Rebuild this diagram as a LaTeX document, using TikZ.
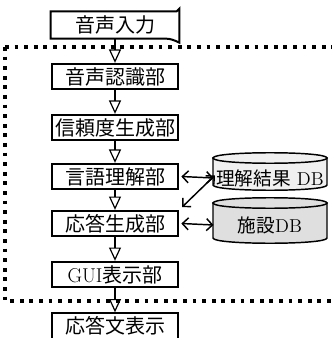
\documentclass[tikz,border=0pt]{standalone}
\usepackage{fontspec}
\newfontfamily\jp{Noto Sans CJK JP}
\usetikzlibrary{arrows.meta}

\tikzset{every picture/.style={line width=0.75pt}}
\tikzset{
  unit/.style={draw, line width=1.5, minimum width=95pt, minimum height=19pt, inner sep=0.75pt, font=\fontsize{15}{17}\selectfont},
  flow/.style={-{Triangle[open,length=10pt,width=9pt]}, line width=0.9},
  link/.style={{Straight Barb[length=4.5pt,width=9pt]}-{Straight Barb[length=4.5pt,width=9pt]}, line width=1.1},
  dbtext/.style={inner sep=0.75pt, minimum width=84pt, minimum height=20pt, font=\fontsize{14}{16}\selectfont},
}

\begin{document}
\begin{tikzpicture}[x=0.75pt,y=0.75pt,yscale=-1,xscale=1]
\useasboundingbox (0,0) rectangle (331,338);

%Shape: Dotted frame
\draw [line width=3, dash pattern=on 2.8pt off 4.4pt] (5,47) -- (345,47) (5,47) -- (5,301) -- (345,301);

% Unit Nodes
\node [unit, draw=none] (in) at (115,25) {\jp 音声入力};
\node [unit] (asr) at (115,76.5) {\jp 音声認識部};
\node [unit] (conf) at (115,127.5) {\jp 信頼度生成部};
\node [unit] (nlu) at (115,176.5) {\jp 言語理解部};
\node [unit] (gen) at (115,223.5) {\jp 応答生成部};
\node [unit] (gui) at (115,274.5) {GUI{\jp 表示部}};
\node [unit] (out) at (115,326) {\jp 応答文表示};

%Shape: Document outline of input
\draw [line width=1.5] (in.south west) -- (in.north west) -- ([xshift=-2pt]in.north east) -- ([yshift=-2pt]in.north east) -- ([yshift=3pt]in.south east) .. controls ([xshift=-4pt,yshift=1pt]in.south east) and ([xshift=-7pt]in.south east) .. ([xshift=-10pt]in.south east) -- cycle ;

%Shape: Cylinder (result DB)
\draw [fill=gray!12, line width=1.1] (213,158) -- (213,185) .. controls (213,192) and (327,192) .. (327,185) -- (327,158) -- cycle ;
\draw [fill=gray!12, line width=1.1] (213,158) .. controls (213,151) and (327,151) .. (327,158) .. controls (327,165) and (213,165) .. (213,158) -- cycle ;
%Shape: Cylinder (facility DB)
\draw [fill=gray!25, line width=1.1] (213,203) -- (213,238) .. controls (213,245) and (327,245) .. (327,238) -- (327,203) -- cycle ;
\draw [fill=gray!25, line width=1.1] (213,203) .. controls (213,196) and (327,196) .. (327,203) .. controls (327,210) and (213,210) .. (213,203) -- cycle ;

% Text Node
\node [dbtext] (dbres) at (270,178) {{\jp 理解結果} DB};
\node [dbtext] (dbfac) at (270,225) {{\jp 施設}DB};

% Flow arrows
\draw [flow] (in) -- (asr);
\draw [flow] (asr) -- (conf);
\draw [flow] (conf) -- (nlu);
\draw [flow] (nlu) -- (gen);
\draw [flow] (gen) -- (gui);
\draw [flow] (gui) -- (out);

% Links to the databases
\draw [link] ([xshift=1.5pt]nlu.east) -- (dbres.west);
\draw [link] ([xshift=2pt,yshift=-2pt]gen.north east) -- ([xshift=1pt,yshift=-2pt]dbres.west);
\draw [link] ([xshift=1.5pt]gen.east) -- (dbfac.west);

\end{tikzpicture}
\end{document}
